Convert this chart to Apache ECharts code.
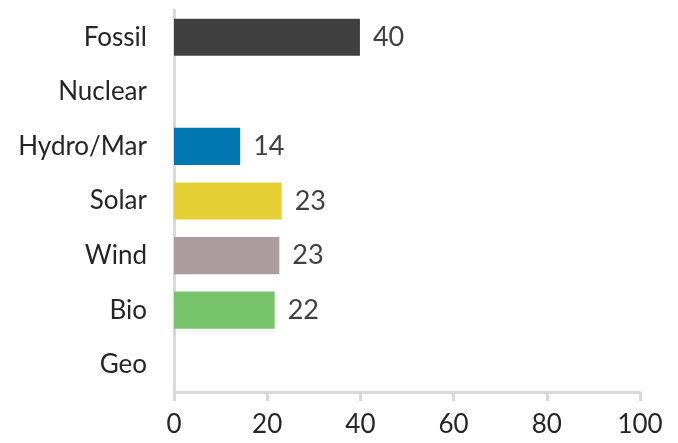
<!DOCTYPE html>
<html>
<head>
<meta charset="utf-8">
<script src="https://cdn.jsdelivr.net/npm/echarts@6/dist/echarts.min.js"></script>
<style>
  html, body { margin: 0; padding: 0; background: #fff; }
  #chart { width: 678px; height: 443px; }
</style>
</head>
<body>
<div id="chart"></div>
<script>
// data
const categories = ['Fossil', 'Nuclear', 'Hydro/Mar', 'Solar', 'Wind', 'Bio', 'Geo'];
const values = [39.9, null, 14.2, 23.1, 22.6, 21.6, null];
const barColors = ['#404040', '#404040', '#0077b0', '#e4d034', '#ac9c9f', '#77c46b', '#404040'];
const xTicks = [0, 20, 40, 60, 80, 100];

const chart = echarts.init(document.getElementById('chart'));

const font = 'Lato, "Open Sans", sans-serif';
const axisGray = '#d9d9d9';

chart.setOption({
    animation: false,
    grid: { left: 174, right: 38, top: 10, bottom: 51, containLabel: false },
    xAxis: {
        type: 'value',
        min: xTicks[0],
        max: xTicks[xTicks.length - 1],
        interval: 20,
        splitLine: { show: false },
        axisLine: { show: true, lineStyle: { color: axisGray, width: 3 } },
        axisTick: { show: true, length: 9, lineStyle: { color: axisGray, width: 3 } },
        axisLabel: { color: '#262626', fontSize: 26, fontFamily: font, margin: 20 }
    },
    yAxis: {
        type: 'category',
        inverse: true,
        data: categories,
        axisLine: { show: true, lineStyle: { color: axisGray, width: 3 } },
        axisTick: { show: false },
        axisLabel: { color: '#262626', fontSize: 26, fontFamily: font, margin: 27 }
    },
    series: [{
        type: 'bar',
        barWidth: '68%',
        data: values.map((v, i) => ({ value: v, itemStyle: { color: barColors[i] } })),
        label: {
            show: true,
            position: 'right',
            distance: 13,
            color: '#404040',
            fontSize: 27,
            fontFamily: font,
            formatter: p => (p.value == null ? '' : Math.round(p.value))
        }
    }]
});

window.addEventListener('resize', () => chart.resize());
</script>
</body>
</html>
